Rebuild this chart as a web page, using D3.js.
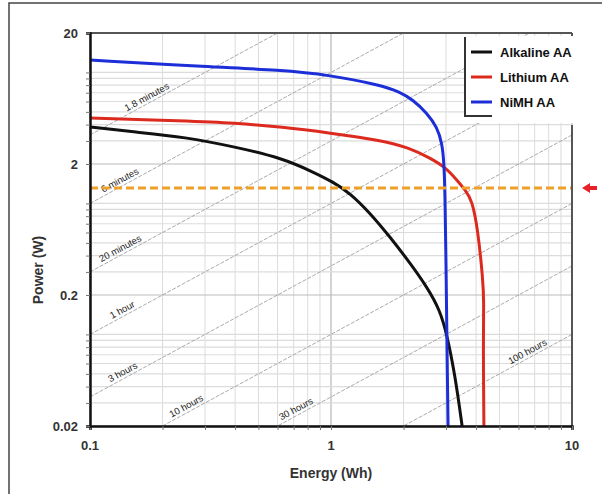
<!DOCTYPE html>
<html>
<head>
<meta charset="utf-8">
<script src="https://cdn.jsdelivr.net/npm/d3@7"></script>
<style>
  body { margin: 0; background: #fff; }
  svg { font-family: "Liberation Sans", Arial, sans-serif; }
</style>
</head>
<body>
<svg width="602" height="494"></svg>
<script>
// energy (Wh) vs power (W)
var alkalineEnergy = [0.1, 0.154, 0.248, 0.40, 0.626, 0.842, 1.019, 1.199, 1.452, 1.757, 2.128, 2.502, 2.833, 3.03, 3.27, 3.50];
var alkalinePower  = [3.83, 3.51, 3.21, 2.70, 2.22, 1.74, 1.459, 1.20, 0.845, 0.555, 0.351, 0.230, 0.153, 0.099, 0.049, 0.02];

var lithiumEnergy = [0.1, 0.248, 0.40, 0.626, 0.991, 1.597, 2.128, 2.576, 2.972, 3.33, 3.60, 3.85, 4.07, 4.27, 4.31, 4.28, 4.31];
var lithiumPower  = [4.49, 4.26, 4.11, 3.83, 3.45, 3.05, 2.65, 2.22, 1.90, 1.51, 1.27, 1.06, 0.627, 0.26, 0.183, 0.0906, 0.02];

var nimhEnergy = [0.1, 0.315, 0.614, 0.991, 1.597, 1.933, 2.188, 2.502, 2.754, 2.89, 2.944, 2.972, 3.0, 3.03, 3.06];
var nimhPower  = [12.45, 11.0, 10.44, 9.55, 8.02, 7.10, 6.17, 4.90, 3.83, 2.89, 2.04, 1.20, 0.37, 0.076, 0.02];

var seriesNames = ["Alkaline AA", "Lithium AA", "NiMH AA"];
var seriesColors = ["#111111", "#dc2a1e", "#1c2ed8"];

// constant run-time lines (hours)
var runHours = [0.03, 0.1, 1 / 3, 1, 3, 10, 30, 100];
var runLabels = ["1.8 minutes", "6 minutes", "20 minutes", "1 hour", "3 hours", "10 hours", "30 hours", "100 hours"];
var runLabelEnergy = [0.144, 0.115, 0.113, 0.125, 0.123, 0.221, 0.63, 5.63];

var xTickLabels = [0.1, 1, 10];
var yTickLabels = [0.02, 0.2, 2, 20];
var markerPower = 1.31;

var svg = d3.select("svg");

var margin = { top: 33, right: 30, bottom: 68, left: 90 };
var plotWidth = 602 - margin.left - margin.right;
var plotHeight = 494 - margin.top - margin.bottom;

var x = d3.scaleLog().domain([0.1, 10]).range([0, plotWidth]);
var y = d3.scaleLog().domain([0.02, 20]).range([plotHeight, 0]);

// outer frame (left and top only)
svg.append("path")
  .attr("d", "M9,494V3H602")
  .attr("fill", "none")
  .attr("stroke", "#444")
  .attr("stroke-width", 1.5);

var plot = svg.append("g")
  .attr("transform", "translate(" + margin.left + "," + margin.top + ")");

svg.append("defs").append("clipPath").attr("id", "clip")
  .append("rect").attr("width", plotWidth).attr("height", plotHeight);

// grid
var isMajor = function(v) {
  var l = Math.log10(v);
  return Math.abs(l - Math.round(l)) < 1e-6;
};
var isMajorY = function(v) {
  var l = Math.log10(v / 2);
  return Math.abs(l - Math.round(l)) < 1e-6;
};

plot.append("g").selectAll("line")
  .data(x.ticks())
  .enter().append("line")
  .attr("x1", function(d) { return x(d); })
  .attr("x2", function(d) { return x(d); })
  .attr("y1", 0).attr("y2", plotHeight)
  .attr("stroke", function(d) { return isMajor(d) ? "#a8a8a8" : "#dcdcdc"; })
  .attr("stroke-width", 1);

plot.append("g").selectAll("line")
  .data(y.ticks())
  .enter().append("line")
  .attr("y1", function(d) { return y(d); })
  .attr("y2", function(d) { return y(d); })
  .attr("x1", 0).attr("x2", plotWidth)
  .attr("stroke", function(d) { return isMajorY(d) ? "#bbbbbb" : "#dcdcdc"; })
  .attr("stroke-width", 1.2);

// run-time diagonals
var diag = plot.append("g").attr("clip-path", "url(#clip)");
var angle = -Math.atan((y(0.02) - y(0.2)) / (x(1) - x(0.1))) * 180 / Math.PI;

runHours.forEach(function(t, i) {
  diag.append("line")
    .attr("x1", x(0.1)).attr("y1", y(0.1 / t))
    .attr("x2", x(10)).attr("y2", y(10 / t))
    .attr("stroke", "#a0a0a0")
    .attr("stroke-width", 0.9)
    .attr("stroke-dasharray", "4,1.5");

  var e = runLabelEnergy[i];
  plot.append("text")
    .attr("transform", "translate(" + x(e) + "," + y(e / t) + ") rotate(" + angle + ")")
    .attr("dy", -3)
    .style("font-size", "9.5px")
    .attr("fill", "#222")
    .text(runLabels[i]);
});

// battery curves
var line = d3.line()
  .x(function(d) { return x(d[0]); })
  .y(function(d) { return y(d[1]); })
  .curve(d3.curveBasis);

var series = [
  d3.zip(alkalineEnergy, alkalinePower),
  d3.zip(lithiumEnergy, lithiumPower),
  d3.zip(nimhEnergy, nimhPower)
];

series.forEach(function(s, i) {
  plot.append("path")
    .datum(s)
    .attr("d", line)
    .attr("fill", "none")
    .attr("stroke", seriesColors[i])
    .attr("stroke-width", 3);
});

// orange marker line
plot.append("line")
  .attr("x1", 0).attr("x2", plotWidth)
  .attr("y1", y(markerPower)).attr("y2", y(markerPower))
  .attr("stroke", "#f0a028")
  .attr("stroke-width", 3)
  .attr("stroke-dasharray", "8,4");

// red arrow at right
var ay = margin.top + y(markerPower);
svg.append("path")
  .attr("d", "M582," + ay + "L590," + (ay - 5) + "V" + (ay - 2) + "H597V" + (ay + 2) + "H590V" + (ay + 5) + "Z")
  .attr("fill", "#e8202a");

// legend
var legend = svg.append("g");
legend.append("rect")
  .attr("x", 465).attr("y", 36)
  .attr("width", 125).attr("height", 87)
  .attr("fill", "#fff");
legend.append("path")
  .attr("d", "M465,37V116H492")
  .attr("fill", "none")
  .attr("stroke", "#333")
  .attr("stroke-width", 2);

seriesNames.forEach(function(name, i) {
  var ly = 52 + i * 25;
  legend.append("line")
    .attr("x1", 471).attr("x2", 492)
    .attr("y1", ly).attr("y2", ly)
    .attr("stroke", seriesColors[i])
    .attr("stroke-width", 3);
  legend.append("text")
    .attr("x", 500).attr("y", ly)
    .attr("dy", "0.35em")
    .style("font-size", "13px")
    .style("font-weight", "bold")
    .attr("fill", "#111")
    .text(name);
});

// plot frame: top and right in gray, left and bottom in black
plot.append("line")
  .attr("x1", 0).attr("x2", plotWidth).attr("y1", 0).attr("y2", 0)
  .attr("stroke", "#555").attr("stroke-width", 2);
plot.append("line")
  .attr("x1", plotWidth).attr("x2", plotWidth).attr("y1", 0).attr("y2", 5)
  .attr("stroke", "#555").attr("stroke-width", 2);
plot.append("line")
  .attr("x1", plotWidth).attr("x2", plotWidth).attr("y1", 125 - margin.top).attr("y2", plotHeight)
  .attr("stroke", "#555").attr("stroke-width", 2);

// axes
var xAxis = d3.axisBottom(x)
  .tickValues(x.ticks())
  .tickSize(4)
  .tickFormat("");
var yAxis = d3.axisLeft(y)
  .tickValues(y.ticks())
  .tickSize(4)
  .tickFormat("");

var xGroup = plot.append("g")
  .attr("transform", "translate(0," + plotHeight + ")")
  .call(xAxis);
var yGroup = plot.append("g").call(yAxis);

[xGroup, yGroup].forEach(function(g) {
  g.select(".domain").attr("stroke", "#111").attr("stroke-width", 2.5);
  g.selectAll(".tick line").attr("stroke", "#777");
});

plot.append("g").selectAll("text")
  .data(xTickLabels)
  .enter().append("text")
  .attr("x", function(d) { return x(d); })
  .attr("y", plotHeight + 24)
  .attr("text-anchor", "middle")
  .style("font-size", "13px")
  .style("font-weight", "bold")
  .attr("fill", "#333")
  .text(function(d) { return d; });

plot.append("g").selectAll("text")
  .data(yTickLabels)
  .enter().append("text")
  .attr("x", -12)
  .attr("y", function(d) { return y(d); })
  .attr("dy", "0.35em")
  .attr("text-anchor", "end")
  .style("font-size", "13px")
  .style("font-weight", "bold")
  .attr("fill", "#333")
  .text(function(d) { return d; });

// axis titles
svg.append("text")
  .attr("x", margin.left + x(1))
  .attr("y", 478)
  .attr("text-anchor", "middle")
  .style("font-size", "14px")
  .style("font-weight", "bold")
  .attr("fill", "#333")
  .text("Energy (Wh)");

svg.append("text")
  .attr("transform", "translate(43,270) rotate(-90)")
  .attr("text-anchor", "middle")
  .style("font-size", "14px")
  .style("font-weight", "bold")
  .attr("fill", "#333")
  .text("Power (W)");
</script>
</body>
</html>
